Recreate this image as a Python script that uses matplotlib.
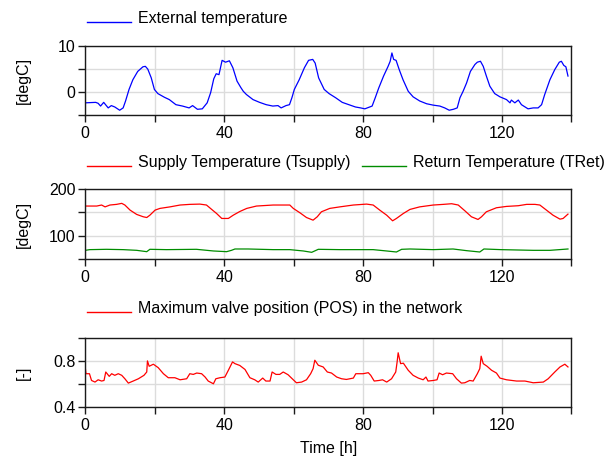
"""Three stacked time series: outdoor temperature, network temperatures, valve position."""
import matplotlib
matplotlib.use("Agg")
import matplotlib.pyplot as plt
from matplotlib.lines import Line2D

plt.rcParams.update({
    "font.family": ["Liberation Sans", "DejaVu Sans"],
    "font.size": 11.5,
    "axes.unicode_minus": False,
})

# --- data --------------------------------------------------------------
ext_hours = [0, 3.0, 3.7, 4.4, 5.3, 6.6, 7.5, 8.5, 9.9, 10.9, 11.6, 12.6, 13.7,
             15.1, 16.6, 17.3, 18.0, 19.0, 19.9, 20.9, 22.8, 24.2, 26.1, 28.0,
             29.9, 30.9, 32.3, 33.7, 35.1, 36.1, 37.0, 37.7, 38.5, 39.4, 40.4,
             41.5, 42.5, 43.7, 44.8, 45.5, 46.4, 48.3, 50.2, 52.1, 54.0, 55.5,
             56.4, 57.8, 58.8, 59.5, 60.2, 61.6, 63.1, 64.3, 65.5, 66.2, 67.2,
             68.8, 70.2, 72.1, 74.0, 75.9, 77.8, 79.3, 80.5, 82.6, 83.5, 84.5,
             85.9, 87.2, 87.8, 88.3, 88.8, 89.5, 90.4, 91.5, 93.0, 94.4, 96.3,
             98.3, 100.2, 102.1, 103.5, 104.8, 106.0, 107.1, 107.9, 108.8,
             109.8, 110.9, 112.2, 112.9, 113.8, 114.6, 115.5, 116.5, 117.9,
             119.4, 121.3, 122.3, 122.7, 123.7, 124.7, 125.6, 127.5, 129.0,
             130.4, 131.4, 132.3, 133.8, 135.2, 136.5, 137.1, 137.8, 138.4, 139.0]
ext_temp = [-2.3, -2.2, -2.4, -3.0, -2.2, -3.4, -2.9, -3.2, -3.9, -3.4, -1.9, 0.6,
            2.7, 4.5, 5.5, 5.6, 5.0, 3.1, 0.6, -0.3, -1.1, -1.6, -2.7, -3.0, -3.4,
            -2.9, -3.7, -3.6, -2.3, -0.1, 2.9, 4.0, 3.8, 6.9, 6.5, 6.8, 5.3, 2.4,
            1.0, 0.2, -0.5, -1.6, -2.2, -2.7, -3.0, -2.9, -3.4, -2.9, -2.7, -1.2,
            0.6, 2.7, 5.3, 6.9, 7.1, 6.3, 3.1, 0.6, -0.3, -1.2, -2.2, -2.7, -3.2,
            -3.4, -3.6, -3.0, -1.2, 0.9, 3.5, 5.6, 6.7, 8.5, 7.1, 6.9, 4.9, 2.7,
            0.2, -1.0, -1.9, -2.5, -2.8, -3.0, -3.4, -3.9, -3.7, -3.4, -1.2, 0.2,
            2.0, 4.5, 6.0, 6.5, 6.7, 5.6, 3.5, 1.3, -0.3, -1.0, -1.6, -2.3, -1.7,
            -2.3, -1.7, -2.7, -3.6, -3.4, -3.4, -2.7, -0.5, 2.7, 4.9, 6.5, 6.7,
            5.8, 5.5, 3.5]

supply_hours = [0, 3.3, 4.7, 5.7, 7.1, 9.0, 10.5, 11.4, 12.9, 14.8, 16.7, 17.7,
                18.6, 20.1, 21.5, 24.4, 27.3, 30.1, 33.0, 34.9, 36.4, 37.8, 39.3,
                41.2, 42.6, 44.5, 46.5, 49.3, 54.1, 58.9, 59.9, 61.8, 63.7, 65.6,
                66.8, 68.0, 70.4, 73.3, 77.2, 81.0, 82.9, 84.8, 86.8, 88.5, 89.6,
                91.6, 93.5, 96.3, 100.2, 103.1, 105.5, 107.4, 109.3, 111.2, 113.1,
                114.1, 115.5, 118.4, 121.3, 124.7, 127.1, 129.5, 130.9, 132.8,
                134.7, 136.7, 137.6, 139.0]
supply_temp = [163.8, 163.8, 166, 162, 166, 167.4, 169.6, 166, 155, 145.7, 140.6,
               139, 144, 155, 158.7, 162, 166, 167.4, 168, 166, 156.5, 147.8, 137,
               137, 144, 152, 158.7, 163.8, 166, 166, 158.7, 149.3, 139, 133.3,
               140.6, 151.4, 158.7, 162, 166, 168, 166, 155, 144, 131.9, 137,
               147.8, 156.5, 162, 166, 167.4, 168.8, 166, 153.6, 140.6, 134.8,
               140.6, 151.4, 160.1, 163, 164.5, 167.4, 167.4, 166, 155, 144,
               135.5, 137, 146.4]

return_hours = [0, 1.3, 6.1, 10.9, 14.8, 17.7, 18.6, 23.4, 32.0, 36.9, 40.7, 42.1,
                43.1, 46.9, 54.1, 58.9, 62.8, 65.2, 67.1, 73.3, 82.9, 86.8, 89.6,
                91.1, 93.5, 100.2, 105.9, 109.8, 113.6, 114.8, 119.7, 129.0,
                133.8, 139.0]
return_temp = [68.1, 69.6, 70.3, 69.6, 68.1, 65.2, 70.3, 69.6, 70.3, 66.7, 65.2,
               68.1, 71, 71, 69.6, 69.6, 66.7, 63.8, 70.3, 69.6, 69.6, 66.7, 64.5,
               70.3, 71, 69.6, 71, 67.4, 64.5, 71, 69.6, 68.1, 68.1, 71]

pos_hours = [0, 0.2, 1.2, 1.8, 2.8, 3.7, 4.7, 5.4, 5.9, 6.9, 7.6, 8.5, 9.5, 10.5,
             11.4, 12.4, 13.8, 15.3, 16.9, 17.7, 17.9, 18.4, 19.6, 21.0, 22.5,
             23.9, 25.8, 27.3, 29.2, 30.1, 31.1, 32.1, 33.5, 34.5, 35.4, 36.9,
             37.6, 38.8, 40.2, 41.2, 42.4, 43.1, 44.5, 46.0, 47.4, 48.8, 49.8,
             51.1, 52.0, 53.2, 53.8, 54.9, 56.0, 57.0, 58.4, 59.9, 60.8, 62.3,
             63.7, 64.9, 65.6, 66.1, 67.1, 68.5, 69.7, 70.9, 72.4, 73.8, 75.2,
             77.2, 77.9, 80.0, 81.5, 82.2, 83.2, 84.6, 85.6, 86.8, 88.2, 89.4,
             89.8, 90.1, 90.8, 91.6, 93.0, 94.4, 95.9, 97.3, 98.1, 98.7, 100.2,
             101.3, 101.9, 102.9, 104.0, 105.8, 106.9, 108.3, 109.3, 110.7,
             111.7, 112.9, 113.6, 114.0, 114.6, 115.7, 117.0, 118.4, 119.4,
             121.3, 124.2, 126.6, 129.0, 131.9, 133.3, 135.2, 136.7, 138.1, 139.0]
pos_value = [0.741, 0.688, 0.688, 0.629, 0.615, 0.635, 0.624, 0.629, 0.703, 0.665,
             0.688, 0.674, 0.688, 0.674, 0.644, 0.606, 0.624, 0.644, 0.674, 0.703,
             0.8, 0.753, 0.771, 0.741, 0.688, 0.653, 0.653, 0.635, 0.644, 0.688,
             0.682, 0.694, 0.688, 0.659, 0.624, 0.6, 0.644, 0.653, 0.659, 0.718,
             0.791, 0.776, 0.76, 0.725, 0.653, 0.635, 0.615, 0.65, 0.624, 0.624,
             0.703, 0.682, 0.682, 0.703, 0.679, 0.635, 0.609, 0.615, 0.635, 0.688,
             0.732, 0.806, 0.762, 0.747, 0.703, 0.694, 0.659, 0.644, 0.638, 0.65,
             0.688, 0.688, 0.697, 0.674, 0.624, 0.629, 0.635, 0.615, 0.644, 0.703,
             0.791, 0.871, 0.776, 0.78, 0.718, 0.674, 0.65, 0.635, 0.659, 0.624,
             0.629, 0.635, 0.694, 0.679, 0.694, 0.688, 0.644, 0.606, 0.609, 0.629,
             0.624, 0.688, 0.732, 0.841, 0.776, 0.753, 0.718, 0.694, 0.65, 0.635,
             0.624, 0.624, 0.609, 0.615, 0.644, 0.703, 0.747, 0.771, 0.747]

x_ticks = [0, 20, 40, 60, 80, 100, 120, 140]
x_labels = ["0", "", "40", "", "80", "", "120", ""]

GRID = "#dcdcdc"
FRAME = "#1a1a1a"


def style_axes(ax, yticks, ylabels, ylim, ylabel):
    ax.set_xlim(0, 140)
    ax.set_ylim(*ylim)
    ax.set_xticks(x_ticks)
    ax.set_xticklabels(x_labels)
    ax.set_yticks(yticks)
    ax.set_yticklabels(ylabels)
    ax.grid(True, color=GRID, lw=1.0)
    ax.set_axisbelow(True)
    for sp in ax.spines.values():
        sp.set_color(FRAME)
        sp.set_linewidth(1.0)
    ax.tick_params(direction="out", length=5, width=1.0, color=FRAME, pad=2)
    ax.tick_params(axis="x", pad=3)
    ax.set_ylabel(ylabel, rotation=90)
    ax.yaxis.set_label_coords(-0.112, 0.5)


def legend_entry(fig, x0, y, text, color):
    # short line sample followed by the label, in pixel coordinates
    W, H = 610, 457
    fig.add_artist(Line2D([x0 / W, (x0 + 44) / W], [1 - (y + 3) / H] * 2,
                          color=color, lw=1.0, transform=fig.transFigure))
    fig.text((x0 + 51) / W, 1 - y / H, text, ha="left", va="center")


fig = plt.figure(figsize=(6.1, 4.57), dpi=100)
left, width = 0.1398, 0.797
ax1 = fig.add_axes([left, 0.7477, width, 0.1516])
ax2 = fig.add_axes([left, 0.4339, width, 0.1519])
ax3 = fig.add_axes([left, 0.1101, width, 0.1503])

ax1.plot(ext_hours, ext_temp, color="#0000ff", lw=0.9)
style_axes(ax1, [-5, 0, 5, 10], ["", "0", "", "10"], (-5, 10), "[degC]")

ax2.plot(supply_hours, supply_temp, color="#ff0000", lw=0.9)
ax2.plot(return_hours, return_temp, color="#008c00", lw=0.9)
style_axes(ax2, [50, 100, 150, 200], ["", "100", "", "200"], (50, 200), "[degC]")

ax3.plot(pos_hours, pos_value, color="#ff0000", lw=0.9)
style_axes(ax3, [0.4, 0.6, 0.8, 1.0], ["0.4", "", "0.8", ""], (0.4, 1.0), "[-]")
ax3.set_xlabel("Time [h]", labelpad=6)

legend_entry(fig, 86.6, 18.5, "External temperature", "#0000ff")
legend_entry(fig, 86.6, 163, "Supply Temperature (Tsupply)", "#ff0000")
legend_entry(fig, 362, 163, "Return Temperature (TRet)", "#008c00")
legend_entry(fig, 86.6, 309, "Maximum valve position (POS) in the network", "#ff0000")

fig.savefig("out.png", dpi=100)
